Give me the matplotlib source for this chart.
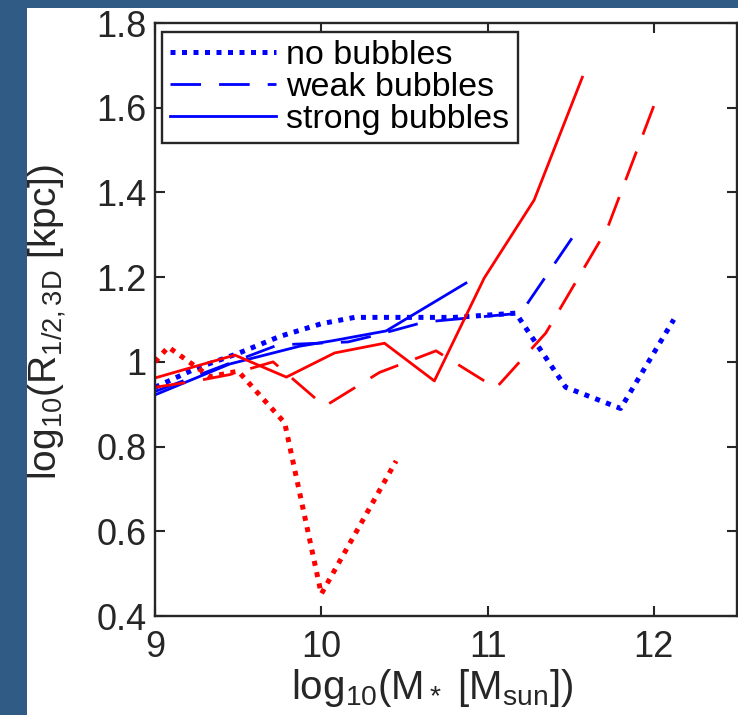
import numpy as np
import matplotlib
matplotlib.use('Agg')
import matplotlib.pyplot as plt
from matplotlib.patches import Rectangle

plt.rcParams['font.family'] = ['Liberation Sans', 'DejaVu Sans']
plt.rcParams['mathtext.fontset'] = 'custom'
plt.rcParams['mathtext.rm'] = 'Liberation Sans'
plt.rcParams['mathtext.it'] = 'Liberation Sans:italic'

# log10 stellar mass vs log10 half-mass radius, blue / red populations
blue_none_x = [9.0, 9.25, 9.5, 9.75, 10.0, 10.2, 10.5, 10.8, 11.17, 11.47, 11.8, 12.12]
blue_none_y = [0.94, 0.985, 1.02, 1.06, 1.09, 1.105, 1.105, 1.105, 1.115, 0.94, 0.89, 1.10]
blue_weak_x = [9.0, 9.74, 10.16, 10.33, 10.62, 11.2, 11.53]
blue_weak_y = [0.93, 1.04, 1.047, 1.063, 1.094, 1.115, 1.305]
blue_strong_x = [9.0, 9.45, 9.87, 10.07, 10.39, 10.87]
blue_strong_y = [0.922, 0.995, 1.037, 1.05, 1.073, 1.186]

red_none_x = [9.0, 9.08, 9.33, 9.5, 9.78, 10.0, 10.45]
red_none_y = [1.0, 1.035, 0.965, 0.978, 0.856, 0.452, 0.766]
red_weak_x = [9.0, 9.25, 9.45, 9.71, 10.02, 10.35, 10.69, 11.05, 11.35, 11.72, 12.01]
red_weak_y = [0.94, 0.955, 0.97, 1.0, 0.895, 0.975, 1.026, 0.938, 1.068, 1.315, 1.615]
red_strong_x = [9.0, 9.48, 9.79, 10.08, 10.38, 10.68, 10.98, 11.28, 11.57]
red_strong_y = [0.962, 1.016, 0.964, 1.021, 1.044, 0.955, 1.198, 1.382, 1.672]

labels = ['no bubbles', 'weak bubbles', 'strong bubbles']
xticks = [9, 10, 11, 12]
yticks = [0.4, 0.6, 0.8, 1.0, 1.2, 1.4, 1.6, 1.8]
yticklabels = ['0.4', '0.6', '0.8', '1', '1.2', '1.4', '1.6', '1.8']

dotted = (0, (1, 1.3))
dashed = (0, (11, 6.5))
ink = '#262626'

fig = plt.figure(figsize=(7.38, 7.15), dpi=100, facecolor='white')
# dark frame strips on the left and top
fig.add_artist(Rectangle((0, 0), 27/738, 1, transform=fig.transFigure,
                         facecolor='#305b84', edgecolor='none'))
fig.add_artist(Rectangle((0, 1 - 8/715), 1, 8/715, transform=fig.transFigure,
                         facecolor='#305b84', edgecolor='none'))

ax = fig.add_axes([155/738, 1 - 616/715, 582/738, 593/715])

ax.plot(blue_none_x, blue_none_y, color='b', lw=3.6, ls=dotted, label=labels[0])
ax.plot(blue_weak_x, blue_weak_y, color='b', lw=2, ls=dashed, label=labels[1])
ax.plot(blue_strong_x, blue_strong_y, color='b', lw=2, ls='-', label=labels[2])
ax.plot(red_none_x, red_none_y, color='r', lw=3.6, ls=dotted)
ax.plot(red_weak_x, red_weak_y, color='r', lw=2, ls=dashed)
ax.plot(red_strong_x, red_strong_y, color='r', lw=2, ls='-')

ax.set_xlim(9, 12.5)
ax.set_ylim(0.4, 1.8)
ax.set_xticks(xticks)
ax.set_xticklabels([str(t) for t in xticks])
ax.set_yticks(yticks)
ax.set_yticklabels(yticklabels)
ax.tick_params(direction='in', length=7.5, width=1.5, top=True, right=True,
               labelsize=26, colors=ink, pad=6)
ax.tick_params(axis='x', pad=10)
for s in ax.spines.values():
    s.set_linewidth(1.7)
    s.set_color(ink)

fig.text(432/738, 1 - 688/715, r'$\mathrm{log_{10}(M_*\ [M_{sun}])}$',
         fontsize=29, color=ink, ha='center', va='center')
fig.text(47/738, 1 - 322/715, r'$\mathrm{log_{10}(R_{1/2,3D}\ [kpc])}$',
         fontsize=28, color=ink, ha='center', va='center', rotation=90)

leg = ax.legend(loc='upper left', bbox_to_anchor=(0.012, 0.985), borderaxespad=0,
                fontsize=24.5, handlelength=3.1, handletextpad=0.3, fancybox=False,
                framealpha=1, edgecolor=ink, borderpad=0.25, labelspacing=0.02)
leg.get_frame().set_linewidth(1.7)

fig.savefig('out.png', dpi=100)
